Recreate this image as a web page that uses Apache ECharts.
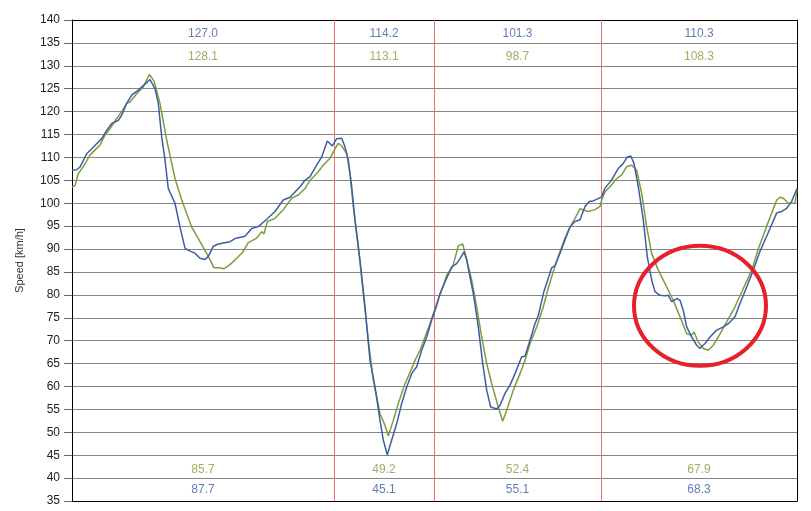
<!DOCTYPE html>
<html>
<head>
<meta charset="utf-8">
<script src="https://cdn.jsdelivr.net/npm/echarts@6/dist/echarts.min.js"></script>
<style>
html,body{margin:0;padding:0;background:#fff;}
#chart{width:811px;height:511px;}
</style>
</head>
<body>
<div id="chart"></div>
<script>
// Distance along track (arbitrary units) and speed [km/h]
var blueDist = [0,4.7,8,14.7,19.7,29.7,34.7,39.7,46.3,49.7,54.7,59.7,66.3,73,78,83,86.3,89.7,93,96.3,103,108,113,116.3,123,128,133,136.3,141.3,146.3,158,163,173,179.7,186.3,194.7,203,211.3,218,228,233,238,244.7,249.7,255.3,260.3,264.7,269.7,273,276.3,279.7,283,288,293,298,303,308,311.3,315.3,319.7,324.7,329.7,334.7,339.7,344.7,349.7,354.7,359.7,364.7,368,373,379.7,384.7,388,392,394.7,398,401.3,406.3,410.7,414.7,418.7,424.7,428,433,438,443,449.7,453,458,463,466.3,472,479.7,483,488,493,498,503,508,513,517.3,521.3,529.7,533,539.7,546.3,551.3,555.3,558.7,562,566.3,571.3,575.3,579.7,583,588,593,596.3,599.7,604.7,608,611.3,614.7,619.7,624.7,628,633,638,644.7,651.3,656.3,663,668,674.7,681.3,688,696.3,704.7,709.7,714.7,719.7,725];
var blueSpeed = [107.2,107.3,107.9,110.8,111.9,114.1,115.9,117.4,118.1,119.2,121.8,123.6,124.7,126,127.0,125,121.8,114.5,109.4,103.2,100,94.8,90.2,89.7,89.1,88,87.7,88.4,90.6,91.1,91.6,92.3,92.8,94.5,94.9,96.5,98.2,100.7,101.3,103.6,105,105.8,108.3,110.1,113.6,112.5,114.1,114.2,112.3,109.4,103.6,96.3,87.6,77.4,65.7,59.9,52.6,48.3,45.1,48.3,51.9,56.3,59.9,62.8,64.3,67.9,70.8,74.5,77.7,80.3,82.8,86.1,86.8,87.9,89.4,87.6,83.9,80.3,73,65,59.2,55.5,55.1,55.9,58.5,60.3,62.8,66.5,66.6,70.1,73.7,75.5,80.8,85.9,86.4,89.1,92,94.8,96,96.4,99.3,100.4,100.5,101.4,103.3,105.1,107.6,108.7,110.1,110.3,108.7,103.6,96.3,88.3,83.2,80.7,79.9,79.8,79.9,78.5,79.2,78.8,76.6,73,70.8,69,68.3,69.4,70.8,72.3,73,73.7,75.2,78.1,81.7,85.4,89.5,93.6,97.9,98.2,98.9,100.4,103.2];
var greenDist = [0,3,6.3,11.3,18,28,33,38,44.7,49.7,54.7,58,64.7,71.3,77.3,82,88,94.7,103,109.7,119.7,128,136.3,142,147.3,152,158,164.7,170.7,176.3,184.7,189.7,192,195.3,203,211.3,219.7,226.3,233,238,244.7,251.3,258,261.3,266.3,269.7,274.7,278,281.3,286.3,291.3,296.3,301.3,308,313,316.3,321.3,326.3,333,339.7,343,348,353,358,364.7,369.7,374.7,380.7,386.3,390.7,394,399.7,404.7,409.7,414.7,419.7,426.3,430.7,434.7,441.3,448,453,458,464.7,471.3,476.3,481.3,486.3,493,498,503,508,513,516.3,523,528,529.7,533,538,544.7,549.7,554.7,559.7,564.7,569.7,574.7,579.7,586.3,591.3,596.3,601.3,608,614.7,619.7,622,626.3,631.3,636.3,641.3,648,654.7,663,671.3,679.7,686.3,694.7,704.7,708,711.3,716.3,723,725];
var greenSpeed = [103.6,103.8,106.5,108,110.5,112.7,114.9,116.3,118.5,120,121.8,122.1,123.9,125.4,128.1,126.7,121.8,113.8,105.4,100.7,94.8,91.6,88.4,85.9,85.9,85.7,86.6,88,89.3,91.4,92.4,93.8,93.3,96,96.7,98.6,101.1,101.8,103.2,105,106.5,108.3,109.8,111.2,113.1,112.5,110.9,106.5,99.2,90.4,80.3,70.1,61.4,54.1,51.5,49.2,52.6,56.3,60.6,63.9,65.7,67.9,70.8,73.7,78.1,81,84.3,86.1,90.7,91.1,88.3,83.2,77.4,70.8,65,60.6,55.5,52.4,54.8,59.2,62.8,65.7,69.4,73,77.4,81.5,85.1,88.4,92.4,94.8,96.7,98.8,98.4,98.2,98.6,99.3,100.7,102.5,103.6,105.4,106.2,108,108.3,107.2,102.1,94.8,89,85.4,83.2,81,78.8,75.2,71.5,71.2,71.9,69.7,68.3,67.9,69,71.5,74.1,77.4,81.4,85.4,90,95,100.7,101.3,101.1,100,100,102.9];
// Segment boundaries (same distance units) and per-segment extremes
var segmentBounds = [0, 262, 362, 529, 725];
var blueMax  = [127.0, 114.2, 101.3, 110.3];
var greenMax = [128.1, 113.1, 98.7, 108.3];
var greenMin = [85.7, 49.2, 52.4, 67.9];
var blueMin  = [87.7, 45.1, 55.1, 68.3];
var yTicks = {min: 35, max: 140, step: 5};

var BLUE = '#3e5da6', GREEN = '#7e9c3c';
var BLUE_TXT = '#3b5aa6', GREEN_TXT = '#8a983e';
var SEP = '#f07070';

function zip(a, b){ return a.map(function(v,i){ return [v, b[i]]; }); }
function labelRow(vals, yPos){
  return vals.map(function(v,i){
    return [(segmentBounds[i] + segmentBounds[i+1]) / 2, yPos, v];
  });
}
function labelSeries(vals, yPos, color){
  return {
    type: 'scatter', data: labelRow(vals, yPos), symbolSize: 0, silent: true,
    label: {show: true, position: 'inside', color: color, fontSize: 12,
      fontFamily: 'Liberation Sans, Arial, sans-serif',
      formatter: function(p){ return p.value[2].toFixed(1); }},
    z: 5
  };
}

var chart = echarts.init(document.getElementById('chart'), null, {renderer: 'canvas'});
var option = {
  animation: false,
  backgroundColor: '#fff',
  grid: {left: 72, right: 14, top: 20, bottom: 10},
  xAxis: [
    {type: 'value', min: segmentBounds[0], max: segmentBounds[4],
     axisLine: {show: true, lineStyle: {color: '#000', width: 1}},
     axisTick: {show: false}, axisLabel: {show: false}, splitLine: {show: false}},
    {type: 'value', position: 'top', min: segmentBounds[0], max: segmentBounds[4],
     axisLine: {show: true, onZero: false, lineStyle: {color: '#000', width: 1}},
     axisTick: {show: false}, axisLabel: {show: false}, splitLine: {show: false}}
  ],
  yAxis: [
    {type: 'value', min: yTicks.min, max: yTicks.max, interval: yTicks.step,
     name: 'Speed [km/h]', nameLocation: 'middle', nameGap: 47, nameRotate: 90,
     nameTextStyle: {color: '#333', fontSize: 11, fontFamily: 'Liberation Sans, Arial, sans-serif'},
     axisLine: {show: true, lineStyle: {color: '#000', width: 1}},
     axisTick: {show: true, inside: false, length: 8, lineStyle: {color: '#666'}},
     axisLabel: {color: '#222', fontSize: 12, margin: 12, fontFamily: 'Liberation Sans, Arial, sans-serif'},
     splitLine: {show: true, lineStyle: {color: '#858585', width: 1}}},
    {type: 'value', position: 'right', min: yTicks.min, max: yTicks.max, interval: yTicks.step,
     axisLine: {show: true, onZero: false, lineStyle: {color: '#000', width: 1}},
     axisTick: {show: false}, axisLabel: {show: false}, splitLine: {show: false}}
  ],
  series: [
    {type: 'custom', data: segmentBounds.slice(1, 4), silent: true, z: 2,
     encode: {x: 0},
     renderItem: function(params, api){
       var b = api.value(0);
       var p1 = api.coord([b, yTicks.min]);
       var p2 = api.coord([b, yTicks.max]);
       var x = Math.round(p1[0]) + 0.5;
       return {type: 'line', shape: {x1: x, y1: p1[1], x2: x, y2: p2[1]},
         style: {stroke: SEP, lineWidth: 1}};
     }},
    {type: 'line', name: 'green', data: zip(greenDist, greenSpeed), showSymbol: false,
     lineStyle: {color: GREEN, width: 1.5}, itemStyle: {color: GREEN}, z: 3},
    {type: 'line', name: 'blue', data: zip(blueDist, blueSpeed), showSymbol: false,
     lineStyle: {color: BLUE, width: 1.5}, itemStyle: {color: BLUE}, z: 4},
    labelSeries(blueMax, 137.1, BLUE_TXT),
    labelSeries(greenMax, 132.1, GREEN_TXT),
    labelSeries(greenMin, 41.8, GREEN_TXT),
    labelSeries(blueMin, 37.5, BLUE_TXT)
  ]
};
chart.setOption(option);

// Red annotation circle around the last dip
var c = chart.convertToPixel({gridIndex: 0}, [628, 77.6]);
chart.setOption({graphic: [{type: 'ellipse', shape: {cx: c[0], cy: c[1], rx: 66, ry: 60},
  style: {fill: 'none', stroke: '#e8202a', lineWidth: 4}, z: 100, silent: true}]});
</script>
</body>
</html>
